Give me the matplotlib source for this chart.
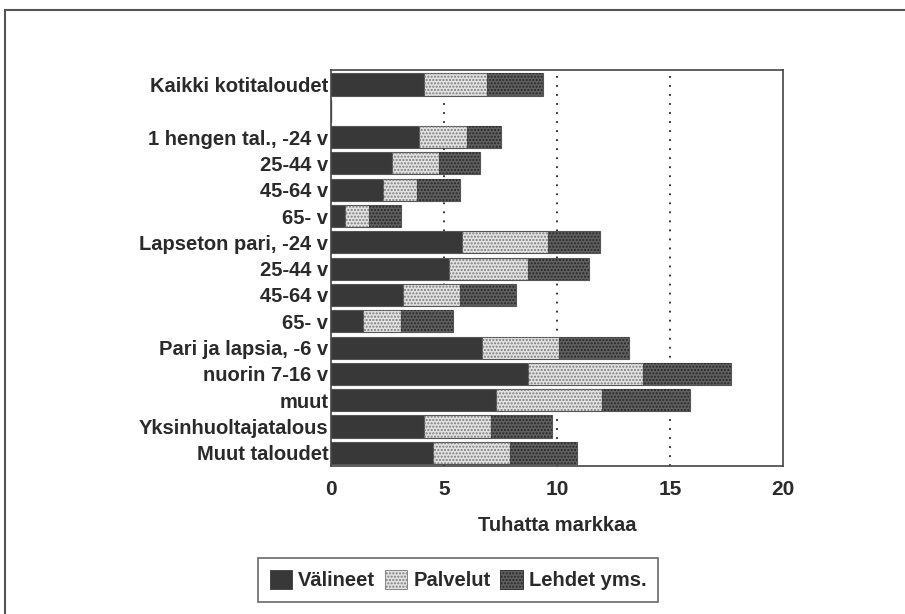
import matplotlib
matplotlib.use("Agg")
from matplotlib import pyplot as plt
from matplotlib.patches import Rectangle
import numpy as np

plt.rcParams['font.family'] = ['Liberation Sans', 'DejaVu Sans']
plt.rcParams['font.weight'] = 'bold'
plt.rcParams['axes.labelweight'] = 'bold'

# kotitalouksien ryhmät (tyhjä rivi erottaa kaikki kotitaloudet muista)
ryhmat = ["Kaikki kotitaloudet", "",
          "1 hengen tal., -24 v", "25-44 v", "45-64 v", "65- v",
          "Lapseton pari, -24 v", "25-44 v", "45-64 v", "65- v",
          "Pari ja lapsia, -6 v", "nuorin 7-16 v", "muut",
          "Yksinhuoltajatalous", "Muut taloudet"]

# tuhatta markkaa
valineet = [4.1, 0, 3.9, 2.7, 2.3, 0.6, 5.8, 5.2, 3.2, 1.4, 6.7, 8.7, 7.3, 4.1, 4.5]
palvelut = [2.8, 0, 2.1, 2.1, 1.5, 1.1, 3.8, 3.5, 2.5, 1.7, 3.4, 5.1, 4.7, 3.0, 3.4]
lehdet = [2.5, 0, 1.5, 1.8, 1.9, 1.4, 2.3, 2.7, 2.5, 2.3, 3.1, 3.9, 3.9, 2.7, 3.0]

sarjat = ["Välineet", "Palvelut", "Lehdet yms."]

fig = plt.figure(figsize=(9.05, 6.14), dpi=100)
ax = fig.add_axes([331/905, 1-466/614, 452/905, 396/614])

y = np.arange(len(ryhmat))
alku = np.zeros(len(ryhmat))
tyylit = [("#383838", None, "#383838"),
          ("#e2e2e2", ".....", "#7a7a7a"),
          ("#606060", ".....", "#262626")]
kahvat = []
for arvot, (vari, kuvio, kuviovari), nimi in zip([valineet, palvelut, lehdet], tyylit, sarjat):
    arvot = np.array(arvot)
    ax.barh(y, arvot, left=alku, height=0.84, color=vari,
            edgecolor="#555555", linewidth=0.8, zorder=2)
    if kuvio:
        ax.barh(y, arvot, left=alku, height=0.84, color="none",
                edgecolor=kuviovari, hatch=kuvio, linewidth=0, zorder=3)
    alku = alku + arvot
    kahvat.append(Rectangle((0, 0), 1, 1, facecolor=vari, edgecolor=kuviovari,
                            hatch=kuvio, linewidth=0.6))

for x in [5, 10, 15]:
    ax.axvline(x, color="#222222", linestyle=(0, (1, 4)), linewidth=1.3, zorder=1)

ax.set_xlim(0, 20)
ax.set_ylim(14.5, -0.55)
ax.set_xticks([0, 5, 10, 15, 20])
ax.set_yticks(y)
ax.set_yticklabels(ryhmat, fontsize=14.5)
ax.tick_params(axis="x", labelsize=15, length=0, pad=10, labelcolor="#2a2a2a")
ax.tick_params(axis="y", length=0, pad=2, labelcolor="#2a2a2a")
for s in ax.spines.values():
    s.set_color("#444444")
    s.set_linewidth(1.2)
ax.set_xlabel("Tuhatta markkaa", fontsize=14.5, labelpad=12, color="#2a2a2a")

leg = fig.legend(kahvat, sarjat, loc="center", bbox_to_anchor=(458/905, 1-580/614),
                 ncol=3, fontsize=14.5, frameon=True, fancybox=False,
                 handlelength=1.1, handleheight=1.1, handletextpad=0.3,
                 columnspacing=0.5, borderpad=0.6)
leg.get_frame().set_edgecolor("#444444")
leg.get_frame().set_linewidth(1.2)
for t in leg.get_texts():
    t.set_color("#2a2a2a")

# ulkokehys
fig.patches.append(Rectangle((5/905, -0.1), 1.2, 1-10/614+0.1, transform=fig.transFigure,
                             fill=False, edgecolor="#555555", linewidth=1.5))

fig.savefig("out.png", dpi=100)
